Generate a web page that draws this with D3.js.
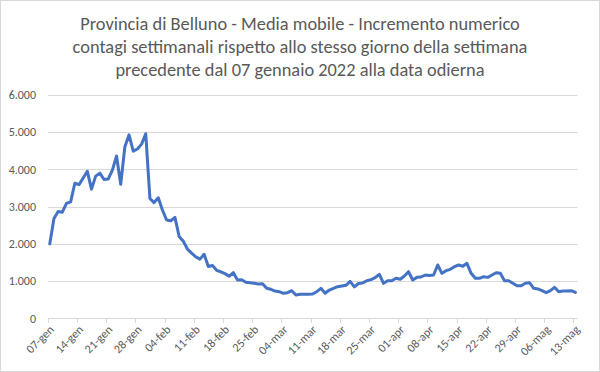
<!DOCTYPE html>
<html lang="it">
<head>
    <meta charset="UTF-8">
    <title>Provincia di Belluno - Media mobile</title>
    <script src="https://d3js.org/d3.v7.min.js"></script>
</head>

<style type="text/css">
    body { margin: 0; background: white; }
    svg text { font-family: Carlito, Calibri, Lato, sans-serif; fill: #595959; }
</style>
<body>
<div id="chart"></div>

<script>
    var width = 600;
    var height = 372;

    var titleLines = [
        "Provincia di Belluno - Media mobile - Incremento numerico",
        "contagi settimanali rispetto allo stesso giorno della settimana",
        "precedente dal 07 gennaio 2022 alla data odierna"
    ];

    // one value per day, 07-gen .. 13-mag
    var values = [
        2000, 2680, 2870, 2850, 3090, 3130, 3630, 3590, 3770, 3950,
        3470, 3820, 3900, 3730, 3740, 3980, 4360, 3600, 4610, 4930,
        4490, 4550, 4680, 4960, 3220, 3110, 3240, 2910, 2640, 2620,
        2710, 2200, 2070, 1860, 1750, 1650, 1590, 1720, 1390, 1420,
        1290, 1250, 1200, 1130, 1225, 1030, 1035, 970, 957, 940,
        921, 930, 806, 779, 733, 715, 672, 688, 742, 626,
        645, 645, 645, 653, 715, 806, 672, 760, 806, 849,
        868, 887, 990, 845, 935, 950, 1010, 1040, 1095, 1182,
        940, 1010, 1010, 1075, 1050, 1136, 1252, 1029, 1100, 1110,
        1163, 1150, 1163, 1432, 1209, 1280, 1316, 1387, 1432, 1400,
        1477, 1209, 1075, 1075, 1118, 1100, 1163, 1225, 1209, 1010,
        1010, 940, 876, 876, 940, 957, 806, 788, 742, 688,
        742, 833, 715, 733, 733, 742, 697
    ];

    var xLabels = ["07-gen", "14-gen", "21-gen", "28-gen", "04-feb", "11-feb", "18-feb",
        "25-feb", "04-mar", "11-mar", "18-mar", "25-mar", "01-apr", "08-apr",
        "15-apr", "22-apr", "29-apr", "06-mag", "13-mag"];
    var labelStep = 7;

    var yTicks = [0, 1000, 2000, 3000, 4000, 5000, 6000];

    var svg = d3.select("#chart").append("svg")
        .attr("width", width).attr("height", height);

    // chart area border
    svg.append("rect")
        .attr("x", 0.5).attr("y", 0.5)
        .attr("width", width - 1).attr("height", height - 1)
        .style("fill", "white")
        .style("stroke", "#d9d9d9");

    var x = d3.scaleBand()
        .domain(d3.range(values.length))
        .range([47.7, 577.5]);

    var y = d3.scaleLinear()
        .domain([0, 6000])
        .range([318.3, 95]);

    var fmt = function (d) {
        return d3.format(",")(d).replace(/,/g, ".");
    };

    // gridlines
    svg.append("g").selectAll("line").data(yTicks.slice(1)).enter()
        .append("line")
        .attr("x1", x.range()[0]).attr("x2", x.range()[1])
        .attr("y1", function (d) { return Math.round(y(d)) + 0.5; })
        .attr("y2", function (d) { return Math.round(y(d)) + 0.5; })
        .style("stroke", "#d9d9d9")
        .style("stroke-width", 1);

    // y labels
    svg.append("g").selectAll("text").data(yTicks).enter()
        .append("text")
        .attr("x", 36)
        .attr("y", function (d) { return y(d); })
        .attr("dy", "0.35em")
        .style("text-anchor", "end")
        .style("font-size", "12px")
        .text(fmt);

    // x axis line + ticks
    var xAxis = svg.append("g");
    xAxis.append("line")
        .attr("x1", x.range()[0]).attr("x2", x.range()[1])
        .attr("y1", Math.round(y(0)) + 0.5).attr("y2", Math.round(y(0)) + 0.5)
        .style("stroke", "#d9d9d9");

    var labelIdx = xLabels.map(function (d, i) { return i * labelStep; });

    xAxis.selectAll(".tick").data(labelIdx).enter()
        .append("line")
        .attr("class", "tick")
        .attr("x1", function (d) { return Math.round(x(d)) + 0.5; })
        .attr("x2", function (d) { return Math.round(x(d)) + 0.5; })
        .attr("y1", Math.round(y(0)) + 0.5)
        .attr("y2", Math.round(y(0)) + 5)
        .style("stroke", "#d9d9d9");

    xAxis.selectAll(".xlab").data(labelIdx).enter()
        .append("text")
        .attr("class", "xlab")
        .attr("transform", function (d) {
            return "translate(" + (x(d) + x.bandwidth() / 2 + 2) + "," + (y(0) + 9) + ") rotate(-45)";
        })
        .attr("dy", "0.35em")
        .style("text-anchor", "end")
        .style("font-size", "12px")
        .text(function (d, i) { return xLabels[i]; });

    // line
    var line = d3.line()
        .x(function (d, i) { return x(i) + x.bandwidth() / 2; })
        .y(function (d) { return y(d); });

    svg.append("path")
        .datum(values)
        .attr("d", line)
        .style("fill", "none")
        .style("stroke", "#4472c4")
        .style("stroke-width", 3)
        .style("stroke-linejoin", "round")
        .style("stroke-linecap", "round");

    // title
    var title = svg.append("g");
    var tl = title.selectAll("text").data(titleLines).enter()
        .append("text")
        .attr("x", 300)
        .attr("y", function (d, i) { return 30 + i * 23; })
        .style("text-anchor", "middle")
        .style("font-size", "18px")
        .text(function (d) { return d; });

    // fit the widest line to its width in the picture
    var w = tl.nodes()[1].getComputedTextLength();
    tl.style("font-size", (18 * 455 / w) + "px");

</script>

</body>
</html>
